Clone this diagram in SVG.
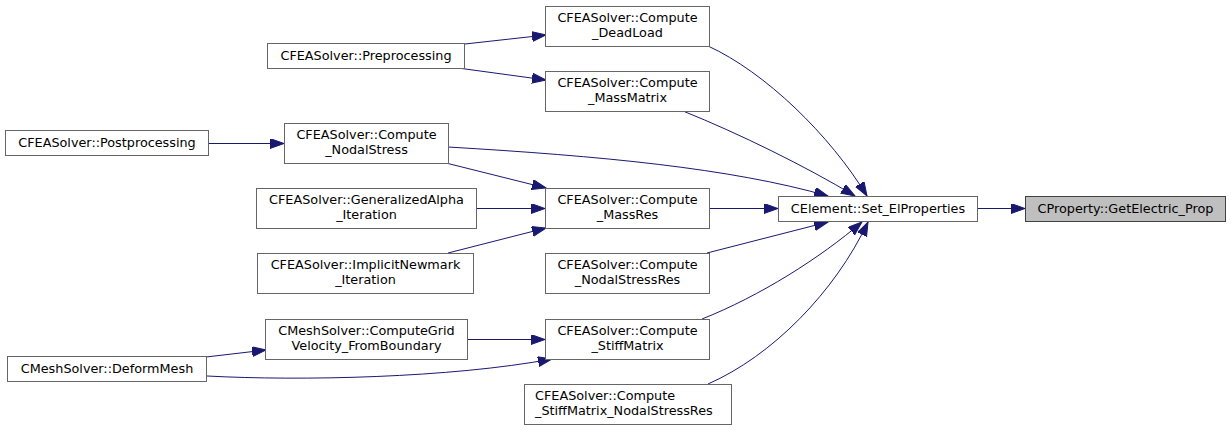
<svg xmlns="http://www.w3.org/2000/svg" width="1231" height="431" viewBox="0 0 1231 431">
<style>
.n rect{fill:#ffffff;stroke:#666666;stroke-width:1}
.n.h rect{fill:#bfbfbf;stroke:#404040}
.n text{font-family:"DejaVu Sans",sans-serif;font-size:12.8px;fill:#000000;text-anchor:middle}
.n text.l{text-anchor:start}
.e path{fill:none;stroke:#191970;stroke-width:1}
</style>
<defs>
<marker id="a" markerUnits="userSpaceOnUse" markerWidth="16" markerHeight="12" refX="14" refY="5" orient="auto">
<path d="M0,0 L14,5 L0,10 z" fill="#191970" stroke="#191970" stroke-width="1"/>
</marker>
</defs>
<rect width="1231" height="431" fill="#ffffff"/>
<g id="connectors" class="e">
<path d="M977,208.5 L1025,208.5" marker-end="url(#a)"/>
<path d="M708,46 C765,72 830,135 867,196" marker-end="url(#a)"/>
<path d="M683,111 C740,134 805,166 855,196" marker-end="url(#a)"/>
<path d="M448,147 C600,156 730,168 828,196" marker-end="url(#a)"/>
<path d="M709,208.5 L778,208.5" marker-end="url(#a)"/>
<path d="M707,253 L828,222" marker-end="url(#a)"/>
<path d="M702,319 C760,296 820,258 862,222" marker-end="url(#a)"/>
<path d="M708,384 C772,356 835,292 868,222" marker-end="url(#a)"/>
<path d="M465,44 L546,35" marker-end="url(#a)"/>
<path d="M458,68 L546,80" marker-end="url(#a)"/>
<path d="M208,143.5 L284,143.5" marker-end="url(#a)"/>
<path d="M446,163 L546,188" marker-end="url(#a)"/>
<path d="M476,208.5 L545,208.5" marker-end="url(#a)"/>
<path d="M448,253 L546,228" marker-end="url(#a)"/>
<path d="M467,339.5 L545,339.5" marker-end="url(#a)"/>
<path d="M206,357 L266,350" marker-end="url(#a)"/>
<path d="M207,376 C300,381 450,378 552,359" marker-end="url(#a)"/>
</g>
<g id="node_getelectric" class="n h"><rect x="1025.5" y="196.5" width="200" height="25"/><text x="1125.5" y="213">CProperty::GetElectric_Prop</text></g>
<g id="node_setelprop" class="n"><rect x="778.5" y="196.5" width="199" height="25"/><text x="878" y="213">CElement::Set_ElProperties</text></g>
<g id="node_deadload" class="n"><rect x="545.5" y="6.5" width="164" height="40"/><text x="627.5" y="22">CFEASolver::Compute</text><text x="627.5" y="37">_DeadLoad</text></g>
<g id="node_massmatrix" class="n"><rect x="545.5" y="71.5" width="164" height="40"/><text x="627.5" y="87">CFEASolver::Compute</text><text x="627.5" y="102">_MassMatrix</text></g>
<g id="node_preprocessing" class="n"><rect x="267.5" y="43.5" width="197" height="25"/><text x="366" y="60">CFEASolver::Preprocessing</text></g>
<g id="node_postprocessing" class="n"><rect x="5.5" y="130.5" width="203" height="25"/><text x="107" y="147">CFEASolver::Postprocessing</text></g>
<g id="node_nodalstress" class="n"><rect x="284.5" y="123.5" width="164" height="40"/><text x="366.5" y="139">CFEASolver::Compute</text><text x="366.5" y="154">_NodalStress</text></g>
<g id="node_massres" class="n"><rect x="545.5" y="188.5" width="164" height="40"/><text x="627.5" y="204">CFEASolver::Compute</text><text x="627.5" y="219">_MassRes</text></g>
<g id="node_genalpha" class="n"><rect x="256.5" y="188.5" width="220" height="40"/><text x="366.5" y="204">CFEASolver::GeneralizedAlpha</text><text x="366.5" y="219">_Iteration</text></g>
<g id="node_newmark" class="n"><rect x="257.5" y="253.5" width="216" height="40"/><text x="365.5" y="269">CFEASolver::ImplicitNewmark</text><text x="365.5" y="284">_Iteration</text></g>
<g id="node_nodalstressres" class="n"><rect x="545.5" y="253.5" width="164" height="40"/><text x="627.5" y="269">CFEASolver::Compute</text><text x="627.5" y="284">_NodalStressRes</text></g>
<g id="node_gridvel" class="n"><rect x="265.5" y="319.5" width="202" height="40"/><text x="366.5" y="335">CMeshSolver::ComputeGrid</text><text x="366.5" y="350">Velocity_FromBoundary</text></g>
<g id="node_stiffmatrix" class="n"><rect x="545.5" y="319.5" width="164" height="40"/><text x="627.5" y="335">CFEASolver::Compute</text><text x="627.5" y="350">_StiffMatrix</text></g>
<g id="node_deformmesh" class="n"><rect x="7.5" y="356.5" width="199" height="25"/><text x="107" y="373">CMeshSolver::DeformMesh</text></g>
<g id="node_stiffnsr" class="n"><rect x="524.5" y="384.5" width="207" height="40"/><text class="l" x="535" y="400">CFEASolver::Compute</text><text class="l" x="535" y="415">_StiffMatrix_NodalStressRes</text></g>
</svg>
